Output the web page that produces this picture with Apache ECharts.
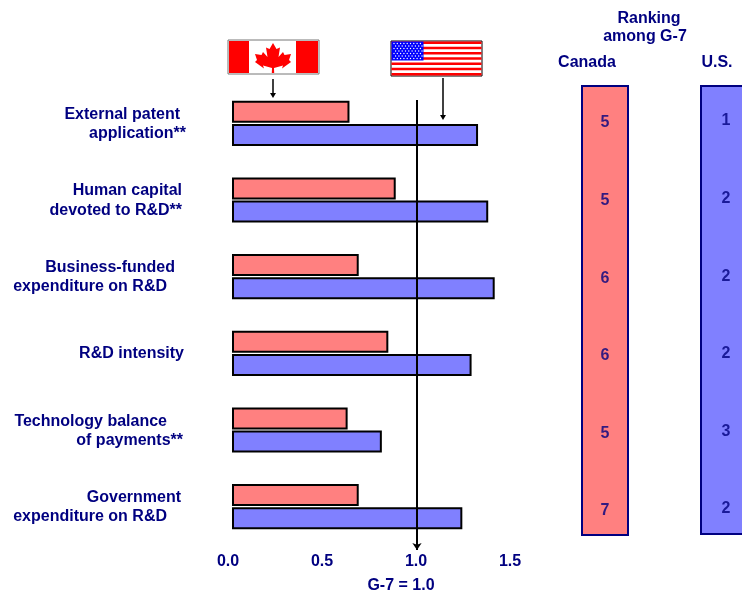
<!DOCTYPE html>
<html><head><meta charset="utf-8">
<style>html,body{margin:0;padding:0;background:#fff}#c{width:742px;height:594px}</style>
<script src="https://cdn.jsdelivr.net/npm/echarts@6/dist/echarts.min.js"></script>
</head><body><div id="c"></div>
<script>
const categories = ["External patent\napplication**","Human capital\ndevoted to R&D**","Business-funded\nexpenditure on R&D","R&D intensity","Technology balance\nof payments**","Government\nexpenditure on R&D"];
const canadaValues = [0.635,0.885,0.685,0.845,0.625,0.685];
const usValues = [1.33,1.385,1.42,1.295,0.81,1.245];
const canadaRanks = [5,5,6,6,5,7];
const usRanks = [1,2,2,2,3,2];
const tickLabels = ["0.0","0.5","1.0","1.5"];

const NAVY='#000080', RED='#ff8080', BLUE='#8080ff', FONT='"Liberation Sans",Arial,sans-serif';
const lineRight=[[180,186],[182,182],[175,167],[184],[167,183],[181,167]];
const lineY=[[115,134],[191,211],[268,287],[354],[422,441],[498,517]];
function txt(s,x,y,align){return {type:'text',x:x,y:y,silent:true,style:{text:s,fill:NAVY,font:'bold 16px '+FONT,align:align||'center',verticalAlign:'middle'}};}
const g=[];
categories.forEach((c,i)=>c.split('\n').forEach((l,j)=>g.push(txt(l,lineRight[i][j],lineY[i][j],'right'))));
g.push(txt('Ranking',649,19),txt('among G-7',645,37),txt('Canada',587,63),txt('U.S.',717,63),txt('G-7 = 1.0',401,586));
// Canadian flag
g.push({type:'rect',shape:{x:228,y:40,width:91,height:34},style:{fill:'#fff',stroke:'#777',lineWidth:1}});
g.push({type:'rect',shape:{x:229,y:41,width:20,height:32},style:{fill:'#f00'}});
g.push({type:'rect',shape:{x:296,y:41,width:22,height:32},style:{fill:'#f00'}});
const half=[[0,43],[3.5,49],[7,47.5],[5.5,57],[10,52],[11.5,55],[18,54],[16,60],[18,62],[9,68.5],[10,65.5],[1,68],[1.2,73]];
const leaf=half.map(p=>[273+p[0],p[1]]).concat(half.slice(1).reverse().map(p=>[273-p[0],p[1]]));
g.push({type:'polygon',shape:{points:leaf},style:{fill:'#f00'}});
// US flag
g.push({type:'rect',shape:{x:391,y:41,width:91,height:35},style:{fill:'#fff',stroke:'#000',lineWidth:1}});
for(let i=0;i<13;i+=2){g.push({type:'rect',shape:{x:391.5,y:41.5+i*34/13,width:90,height:34/13},style:{fill:'#f00'}});}
g.push({type:'rect',shape:{x:391.5,y:41.5,width:32,height:19},style:{fill:'#00f'}});
for(let r=0;r<7;r++)for(let k=0;k<9;k++){g.push({type:'circle',shape:{cx:394+k*3.3+(r%2?1.6:0),cy:43.5+r*2.5,r:0.7},style:{fill:'#fff'}});}
// Arrows
function arrow(x,y1,y2){
 g.push({type:'line',shape:{x1:x,y1:y1,x2:x,y2:y2-3},style:{stroke:'#000',lineWidth:1.5}});
 g.push({type:'polygon',shape:{points:[[x-3,y2-5],[x+3,y2-5],[x,y2]]},style:{fill:'#000'}});
}
arrow(273,79,98);arrow(443,78,120);

const rankSeries=(ranks,gi)=>({type:'scatter',xAxisIndex:gi,yAxisIndex:gi,symbolSize:0,
  data:ranks.map((r,i)=>[0.5,i,r]),
  label:{show:true,position:'inside',formatter:p=>String(p.value[2]),color:NAVY,fontFamily:FONT,fontWeight:'bold',fontSize:16},silent:true});
const hiddenY=gi=>({gridIndex:gi,type:'category',data:categories,inverse:true,show:false});
const rankY=(gi,min,max)=>({gridIndex:gi,type:'value',inverse:true,min:min,max:max,show:false});

const chart=echarts.init(document.getElementById('c'),null,{renderer:'canvas'});
chart.setOption({
 animation:false,
 backgroundColor:'#fff',
 grid:[
  {left:232,width:277.5,top:85,height:460},
  {left:228,width:282,top:85,height:460},
  {left:582,width:46,top:86,height:449,show:true,backgroundColor:RED,borderColor:NAVY,borderWidth:2},
  {left:701,width:50,top:86,height:448,show:true,backgroundColor:BLUE,borderColor:NAVY,borderWidth:2,outerBoundsMode:'none'}
 ],
 xAxis:[
  {gridIndex:0,type:'value',min:0,max:1.5,show:false},
  {gridIndex:1,type:'value',min:0,max:1.5,interval:0.5,axisLine:{show:false},axisTick:{show:false},splitLine:{show:false},
   axisLabel:{margin:9,color:NAVY,fontFamily:FONT,fontWeight:'bold',fontSize:16,formatter:v=>tickLabels[Math.round(v/0.5)]}},
  {gridIndex:2,type:'value',min:0,max:1,show:false},
  {gridIndex:3,type:'value',min:0,max:1,show:false}
 ],
 yAxis:[hiddenY(0),hiddenY(1),rankY(2,-0.477,5.309),rankY(3,-0.451,5.322)],
 series:[
  {name:'Canada',type:'bar',xAxisIndex:0,yAxisIndex:0,data:canadaValues,barWidth:22,barGap:'5%',
   itemStyle:{color:RED,borderColor:'#000',borderWidth:2},z:2},
  {name:'U.S.',type:'bar',xAxisIndex:0,yAxisIndex:0,data:usValues,barWidth:22,
   itemStyle:{color:BLUE,borderColor:'#000',borderWidth:2},z:2,
   markLine:{silent:true,z:5,symbol:['none','arrow'],symbolSize:7,label:{show:false},
    lineStyle:{color:'#000',width:2,type:'solid'},
    data:[[{xAxis:1,y:100},{xAxis:1,y:550}]]}},
  {type:'scatter',xAxisIndex:1,yAxisIndex:1,data:[],silent:true},
  rankSeries(canadaRanks,2),
  rankSeries(usRanks,3)
 ],
 graphic:g
});
</script></body></html>
